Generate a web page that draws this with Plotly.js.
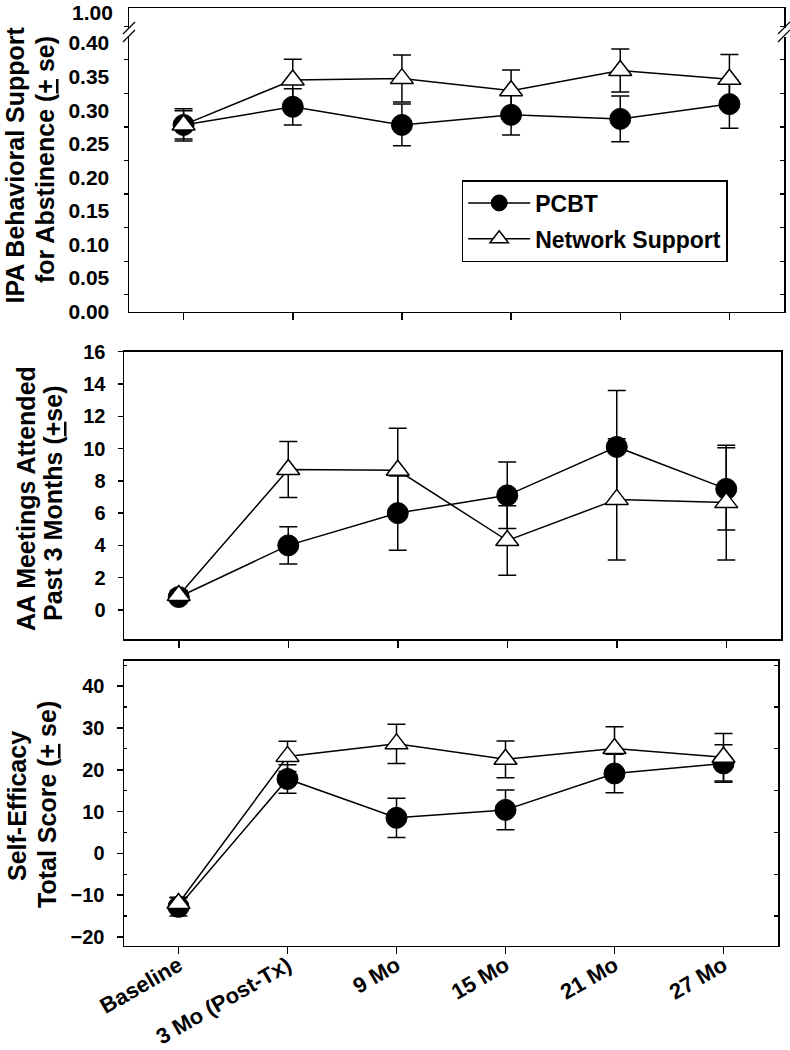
<!DOCTYPE html>
<html>
<head>
<meta charset="utf-8">
<script src="https://cdn.plot.ly/plotly-3.0.1.min.js"></script>
<style>html,body{margin:0;padding:0;background:#fff;}#chart{width:790px;height:1050px;}</style>
</head>
<body>
<div id="chart"></div>
<script>
// ---- data ----
const categories = ['Baseline', '3 Mo (Post-Tx)', '9 Mo', '15 Mo', '21 Mo', '27 Mo'];
const seriesNames = ['PCBT', 'Network Support'];

// IPA Behavioral Support for Abstinence
const ipaPCBT = [0.278, 0.305, 0.278, 0.293, 0.287, 0.309];
const ipaPCBTse = [0.024, 0.027, 0.031, 0.030, 0.034, 0.036];
const ipaNS = [0.278, 0.345, 0.347, 0.329, 0.359, 0.346];
const ipaNSse = [0.021, 0.031, 0.035, 0.031, 0.032, 0.037];
const ipaTicks = [0, 0.05, 0.10, 0.15, 0.20, 0.25, 0.30, 0.35, 0.40];
const ipaBreakLabel = '1.00';

// AA meetings attended past 3 months
const aaPCBT = [0.8, 4.0, 6.0, 7.1, 10.1, 7.5];
const aaPCBTse = [0.3, 1.16, 2.3, 2.06, 3.5, 2.55];
const aaNS = [0.9, 8.7, 8.65, 4.3, 6.85, 6.65];
const aaNSse = [0.3, 1.73, 2.6, 2.15, 3.75, 3.55];

// Self-efficacy total score
const sePCBT = [-12.8, 17.8, 8.5, 10.4, 19.1, 21.5];
const sePCBTse = [2.2, 3.4, 4.7, 4.75, 4.6, 4.5];
const seNS = [-12.0, 23.2, 26.2, 22.5, 25.1, 23.0];
const seNSse = [1.5, 3.6, 4.7, 4.4, 5.2, 5.7];

// ---- helpers ----
const W = 790, H = 1050;
const px = v => v / W;
const py = v => 1 - v / H;
const FONT = 'Liberation Sans, Arial, Helvetica, sans-serif';

function pcbtTrace(y, se, xa, ya, showLegend) {
  return {
    type: 'scatter', mode: 'lines+markers', name: seriesNames[0], legendgroup: 'a',
    x: categories, y: y, xaxis: xa, yaxis: ya, showlegend: showLegend,
    line: {color: '#000', width: 1.5},
    marker: {symbol: 'circle', size: 21, color: '#000', line: {color: '#000', width: 1}},
    error_y: {type: 'data', array: se, visible: true, color: '#000', thickness: 1.5, width: 9}
  };
}
function nsTrace(y, se, xa, ya, showLegend) {
  return {
    type: 'scatter', mode: 'lines+markers', name: seriesNames[1], legendgroup: 'b',
    x: categories, y: y, xaxis: xa, yaxis: ya, showlegend: showLegend,
    line: {color: '#000', width: 1.5},
    marker: {symbol: 'triangle-up', size: 20, color: '#fff', line: {color: '#000', width: 1.5}},
    error_y: {type: 'data', array: se, visible: true, color: '#000', thickness: 1.5, width: 9}
  };
}
function emptyTrace(xa, ya) {
  return {type: 'scatter', mode: 'markers', x: [], y: [], xaxis: xa, yaxis: ya, showlegend: false, hoverinfo: 'skip'};
}

const data = [
  pcbtTrace(ipaPCBT, ipaPCBTse, 'x', 'y', true),
  nsTrace(ipaNS, ipaNSse, 'x', 'y', true),
  pcbtTrace(aaPCBT, aaPCBTse, 'x2', 'y2', false),
  nsTrace(aaNS, aaNSse, 'x2', 'y2', false),
  pcbtTrace(sePCBT, sePCBTse, 'x3', 'y3', false),
  nsTrace(seNS, seNSse, 'x3', 'y3', false),
  emptyTrace('x', 'y4'),
  emptyTrace('x3', 'y6')
];

const tickFont = {family: FONT, size: 20, color: '#000', weight: 'bold'};
function xAxis(domain, anchor, labels) {
  return {
    domain: domain, anchor: anchor, type: 'category', range: [-0.5, 5.5],
    showline: true, linecolor: '#000', linewidth: 1.5, mirror: true,
    showgrid: false, zeroline: false,
    ticks: 'outside', ticklen: 7, tickwidth: 1.5, tickcolor: '#000',
    showticklabels: labels, tickangle: -30, ticklabelstandoff: -10,
    tickfont: {family: FONT, size: 22, color: '#000', weight: 'bold'}
  };
}
function yBase(domain, anchor, range) {
  return {
    domain: domain, anchor: anchor, range: range,
    showline: true, linecolor: '#000', linewidth: 1.5, mirror: true,
    showgrid: false, zeroline: false,
    tickfont: tickFont, tickwidth: 1.5, tickcolor: '#000'
  };
}

const yTop = yBase([py(311.5), py(8)], 'x', [0, 0.4522]);
Object.assign(yTop, {
  tickmode: 'array', tickvals: ipaTicks, tickformat: '.2f',
  tickfont: {family: FONT, size: 21, color: '#000', weight: 'bold'},
  ticks: 'outside', ticklen: 6, tickcolor: 'rgba(0,0,0,0)', ticklabelstandoff: 8,
  minor: {tick0: 0.025, dtick: 0.05, ticks: 'outside', ticklen: 4, tickwidth: 1.2, tickcolor: '#000'}
});
const yTopR = {
  overlaying: 'y', side: 'right', anchor: 'x', range: [0, 0.4522],
  tickmode: 'linear', tick0: 0.025, dtick: 0.05, ticks: 'inside', ticklen: 4, tickwidth: 1.2, tickcolor: '#000',
  showticklabels: false, showline: false, showgrid: false, zeroline: false
};

const yMid = yBase([py(639), py(351.7)], 'x2', [-1.8, 16]);
Object.assign(yMid, {tick0: 0, dtick: 2, ticks: 'outside', ticklen: 5, ticklabelstandoff: 8});

const yBot = yBase([py(945.7), py(660.7)], 'x3', [-22.1, 46.1]);
Object.assign(yBot, {
  tick0: 0, dtick: 10, ticks: 'outside', ticklen: 6, ticklabelstandoff: 8,
  minor: {tick0: 5, dtick: 10, ticks: 'inside', ticklen: 3, tickwidth: 1.2, tickcolor: '#000'}
});
const yBotR = {
  overlaying: 'y3', side: 'right', anchor: 'x3', range: [-22.1, 46.1],
  tickmode: 'linear', tick0: 5, dtick: 10, ticks: 'inside', ticklen: 4, tickwidth: 1.2, tickcolor: '#000',
  showticklabels: false, showline: false, showgrid: false, zeroline: false
};

const titleFont = {family: FONT, size: 25, color: '#000', weight: 'bold'};
function vTitle(text, cx, cy) {
  return {text: text, xref: 'paper', yref: 'paper', x: px(cx), y: py(cy),
    xanchor: 'center', yanchor: 'middle', textangle: -90, showarrow: false, font: titleFont};
}

const annotations = [
  vTitle('IPA Behavioral Support', 14.5, 165),
  vTitle('for Abstinence (<u>+</u> se)', 45, 160),
  vTitle('AA Meetings Attended', 26, 499),
  vTitle('Past 3 Months (<u>+</u>se)', 53, 503),
  vTitle('Self-Efficacy', 17, 806),
  vTitle('Total Score (<u>+</u> se)', 47, 805),
  {text: ipaBreakLabel, xref: 'paper', yref: 'paper', x: px(114), y: 1,
   xanchor: 'right', yanchor: 'top', showarrow: false, borderpad: 0,
   font: {family: FONT, size: 21, color: '#000', weight: 'bold'}}
];

function seg(x0, y0, x1, y1, color, width) {
  return {type: 'line', xref: 'paper', yref: 'paper', x0: px(x0), y0: py(y0), x1: px(x1), y1: py(y1),
    line: {color: color, width: width}, layer: 'above'};
}
function gap(x0, y0, x1, y1) {
  return {type: 'rect', xref: 'paper', yref: 'paper', x0: px(x0), y0: py(y0), x1: px(x1), y1: py(y1),
    fillcolor: '#fff', line: {width: 0}, layer: 'above'};
}
const shapes = [
  gap(125, 28, 133, 36),
  seg(123, 34, 135, 22, '#000', 1.2),
  seg(123, 42, 135, 30, '#000', 1.2),
  gap(780, 28, 788, 37),
  seg(778, 34, 790, 22, '#000', 1.2),
  seg(778, 42, 790, 30, '#000', 1.2)
];

const layout = {
  width: W, height: H,
  margin: {l: 0, r: 0, t: 0, b: 0, pad: 0},
  paper_bgcolor: '#fff', plot_bgcolor: '#fff',
  font: {family: FONT, color: '#000'},
  showlegend: true,
  legend: {
    x: px(461.7), y: py(180), xanchor: 'left', yanchor: 'top',
    bgcolor: '#fff', bordercolor: '#000', borderwidth: 1.5,
    font: {family: FONT, size: 23, color: '#000', weight: 'bold'},
    traceorder: 'grouped', tracegroupgap: 3, itemwidth: 62
  },
  xaxis: xAxis([px(129), px(784)], 'y', false),
  yaxis: yTop,
  yaxis4: yTopR,
  xaxis2: xAxis([px(124), px(781)], 'y2', false),
  yaxis2: yMid,
  xaxis3: xAxis([px(124), px(778)], 'y3', true),
  yaxis3: yBot,
  yaxis6: yBotR,
  annotations: annotations,
  shapes: shapes
};

Plotly.newPlot('chart', data, layout, {staticPlot: true, displayModeBar: false});
</script>
</body>
</html>
